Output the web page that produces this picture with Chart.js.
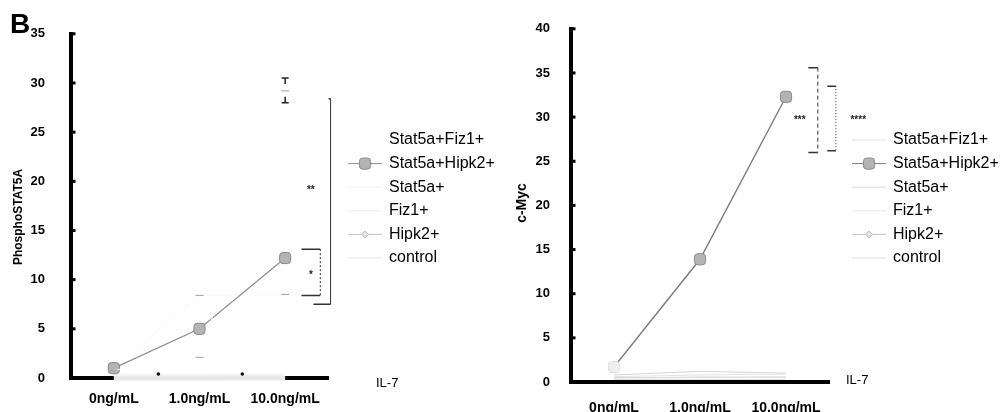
<!DOCTYPE html>
<html>
<head>
<meta charset="utf-8">
<script src="https://cdn.jsdelivr.net/npm/chart.js@4.4.0/dist/chart.umd.min.js"></script>
<style>
  html, body { margin: 0; padding: 0; background: #fff; }
  body { width: 1001px; height: 412px; position: relative; overflow: hidden; font-family: 'Liberation Sans', Arial, sans-serif; }
  .box { position: absolute; top: 0; height: 412px; }
  #boxA { left: 0; width: 500px; }
  #boxB { left: 500px; width: 501px; }
  .lbl { position: absolute; color: #000; }
  #panel { left: 10px; top: 8px; font-size: 28px; font-weight: bold; }
  #il7a { left: 376px; top: 375px; font-size: 13px; }
  #il7b { left: 846px; top: 372px; font-size: 13px; }
</style>
</head>
<body>
<div class="box" id="boxA"><canvas id="chartA"></canvas></div>
<div class="box" id="boxB"><canvas id="chartB"></canvas></div>
<div class="lbl" id="panel">B</div>
<div class="lbl" id="il7a">IL-7</div>
<div class="lbl" id="il7b">IL-7</div>
<script>
// dose categories (x) and series names
const doses = ['0ng/mL', '1.0ng/mL', '10.0ng/mL'];
const seriesNames = ['Stat5a+Fiz1+', 'Stat5a+Hipk2+', 'Stat5a+', 'Fiz1+', 'Hipk2+', 'control'];

// PhosphoSTAT5A values
const pStat5aFiz1  = [0.8, 2.1, 29.2];
const pStat5aHipk2 = [1.0, 5.0, 12.2];
const pStat5a      = [0.4, 0.4, 0.4];
const pFiz1        = [0.2, 0.2, 0.3];
const pHipk2       = [1.0, 8.4, 8.5];
const pControl     = [0.0, 0.0, 0.0];
// error caps of Stat5a+Fiz1+
const pErrHigh = [null, null, 30.5];
const pErrLow  = [null, null, 28.0];
// significance brackets
const pSigX      = [2.41, 2.53];
const pSigTop    = [13.1, 28.4];
const pSigBottom = [8.4, 7.5];
const pSigMark   = ['*', '**'];
const pSigMarkX  = [2.3, 2.3];
const pSigMarkY  = [10.8, 19.4];
const pDotX = [0.52, 1.5];
const pDotY = [0.4, 0.4];

// c-Myc values
const mStat5aFiz1  = [0.6, 0.8, 0.9];
const mStat5aHipk2 = [1.7, 13.9, 32.3];
const mStat5a      = [0.5, 0.5, 0.6];
const mFiz1        = [0.4, 0.6, 0.5];
const mHipk2       = [0.8, 1.2, 1.0];
const mControl     = [0.3, 0.3, 0.3];
const mSigX      = [2.37, 2.58];
const mSigTop    = [35.6, 33.5];
const mSigBottom = [26.0, 26.2];
const mSigMark   = ['***', '****'];
const mSigMarkX  = [2.16, 2.84];
const mSigMarkY  = [30, 30];

const FONT = "'Liberation Sans', Arial, sans-serif";

const extras = {
  id: 'extras',
  afterDatasetsDraw(chart, args, o) {
    const ctx = chart.ctx, xs = chart.scales.x, ys = chart.scales.y, a = chart.chartArea;
    ctx.save();
    // small tick nubs on the y axis
    ctx.fillStyle = '#000';
    ys.ticks.forEach(t => {
      const py = ys.getPixelForValue(t.value);
      ctx.fillRect(a.left + 1, py - 1.5, 3.5, 3);
    });
    // y axis title
    ctx.save();
    ctx.translate(o.titleX, o.titleY);
    ctx.rotate(-Math.PI / 2);
    ctx.font = o.titleFont;
    ctx.textAlign = 'center';
    ctx.textBaseline = 'middle';
    ctx.fillText(o.title, 0, 0);
    ctx.restore();

    // error caps (T shapes)
    (o.errHigh || []).forEach((v, i) => {
      if (v == null) return;
      const px = xs.getPixelForValue(i), hi = ys.getPixelForValue(v), lo = ys.getPixelForValue(o.errLow[i]);
      ctx.strokeStyle = '#222'; ctx.lineWidth = 1.5;
      ctx.beginPath();
      ctx.moveTo(px - 3.5, hi); ctx.lineTo(px + 3.5, hi);
      ctx.moveTo(px, hi); ctx.lineTo(px, hi + 6);
      ctx.moveTo(px - 3.5, lo); ctx.lineTo(px + 3.5, lo);
      ctx.moveTo(px, lo); ctx.lineTo(px, lo - 6);
      ctx.stroke();
    });

    // small dots
    (o.dotX || []).forEach((v, i) => {
      ctx.fillStyle = '#111';
      ctx.beginPath();
      ctx.arc(xs.getPixelForValue(v), ys.getPixelForValue(o.dotY[i]), 1.8, 0, Math.PI * 2);
      ctx.fill();
    });

    // significance brackets
    o.sigX.forEach((v, i) => {
      const px = xs.getPixelForValue(v);
      const top = ys.getPixelForValue(o.sigTop[i]);
      const bot = ys.getPixelForValue(o.sigBottom[i]);
      const capL = xs.getPixelForValue(v - o.capLen[i]);
      ctx.strokeStyle = '#333';
      ctx.lineWidth = 1;
      ctx.setLineDash(o.sigDash[i]);
      ctx.beginPath(); ctx.moveTo(px, top); ctx.lineTo(px, bot); ctx.stroke();
      ctx.setLineDash([]);
      ctx.lineWidth = 1.5;
      ctx.beginPath();
      ctx.moveTo(o.topCap[i] ? capL : px - 2, top); ctx.lineTo(px, top);
      ctx.moveTo(capL, bot); ctx.lineTo(px, bot);
      ctx.stroke();
      ctx.fillStyle = '#222';
      ctx.font = 'bold 10px ' + FONT;
      ctx.textAlign = 'center';
      ctx.textBaseline = 'middle';
      ctx.fillText(o.sigMark[i], xs.getPixelForValue(o.sigMarkX[i]), ys.getPixelForValue(o.sigMarkY[i]) + 3);
    });

    // legend
    chart.data.datasets.forEach((ds, i) => {
      const cy = o.legendTop + i * o.legendGap;
      const tx = o.legendX;
      ctx.strokeStyle = ds.legendLine || ds.borderColor;
      ctx.lineWidth = 1;
      ctx.beginPath(); ctx.moveTo(tx - 41, cy); ctx.lineTo(tx - 7, cy); ctx.stroke();
      if (ds.legendPoint) {
        ctx.fillStyle = ds.legendFill;
        ctx.strokeStyle = ds.legendStroke;
        Chart.helpers.drawPoint(ctx, { pointStyle: ds.legendStyle || ds.pointStyle, radius: ds.legendPoint, borderWidth: 1, rotation: 0 }, tx - 24, cy);
      }
      ctx.fillStyle = '#000';
      ctx.font = '16px ' + FONT;
      ctx.textAlign = 'left';
      ctx.textBaseline = 'middle';
      ctx.fillText(ds.label, tx, cy);
    });
    ctx.restore();
  }
};

function line(label, values, color, width, extra) {
  return Object.assign({
    label: label,
    data: values.map((v, i) => ({ x: i, y: v })),
    borderColor: color, borderWidth: width,
    pointRadius: 0, pointStyle: 'circle', fill: false, tension: 0
  }, extra || {});
}

function makeChart(id, sets, cfg) {
  return new Chart(document.getElementById(id), {
    type: 'line',
    data: { datasets: sets },
    options: {
      responsive: true,
      maintainAspectRatio: false,
      animation: false,
      layout: { padding: { left: 0, top: cfg.top, right: cfg.right, bottom: 0 } },
      plugins: { legend: { display: false }, tooltip: { enabled: false }, extras: cfg.extras },
      scales: {
        x: {
          type: 'linear', min: -0.5, max: 2.5,
          afterBuildTicks: s => { s.ticks = doses.map((d, i) => ({ value: i })); },
          afterFit: s => { s.height = cfg.xHeight; },
          ticks: { callback: v => doses[v], color: '#000', padding: cfg.xPad, maxRotation: 0, autoSkip: false,
                   font: { family: FONT, size: 14, weight: 'bold' } },
          grid: { display: true, drawOnChartArea: false, drawTicks: false },
          border: { color: '#000', width: 4 }
        },
        y: {
          min: 0, max: cfg.yMax,
          afterFit: s => { s.width = 71; },
          ticks: { stepSize: 5, color: '#000', padding: cfg.yPad,
                   font: { family: FONT, size: 13, weight: 'bold' } },
          grid: { display: true, drawOnChartArea: false, drawTicks: false },
          border: { color: '#000', width: 4 }
        }
      }
    },
    plugins: [extras]
  });
}

const mainStyle = { pointRadius: 6.5, pointStyle: 'rectRounded', pointBackgroundColor: '#b4b4b4',
                    pointBorderColor: '#8a8a8a', pointBorderWidth: 1,
                    legendPoint: 6.5, legendFill: '#b4b4b4', legendStroke: '#8a8a8a' };
const faintPt = { pointRadius: 4, pointStyle: 'line', pointBorderColor: '#a0a0a0', pointBorderWidth: 1 };

makeChart('chartA', [
  line(seriesNames[0], pStat5aFiz1, '#fbfbfb', 1, faintPt),
  line(seriesNames[1], pStat5aHipk2, '#8e8e8e', 1.2, mainStyle),
  line(seriesNames[2], pStat5a, '#f2f2f2', 1),
  line(seriesNames[3], pFiz1, '#eeeeee', 1),
  line(seriesNames[4], pHipk2, '#f8f8f8', 1, Object.assign({}, faintPt,
       { legendPoint: 3.5, legendStyle: 'rectRot', legendLine: '#c4c4c4', legendFill: '#e4e4e4', legendStroke: '#bbb' })),
  line(seriesNames[5], pControl, '#e8e8e8', 5, { clip: false })
], {
  top: 25, right: 172, xHeight: 34, xPad: 13, yPad: 26, yMax: 35,
  extras: {
    title: 'PhosphoSTAT5A', titleX: 19, titleY: 217, titleFont: 'bold 12px ' + FONT,
    errHigh: pErrHigh, errLow: pErrLow, dotX: pDotX, dotY: pDotY,
    sigX: pSigX, sigTop: pSigTop, sigBottom: pSigBottom, sigMark: pSigMark,
    sigMarkX: pSigMarkX, sigMarkY: pSigMarkY,
    capLen: [0.22, 0.2], topCap: [true, false], sigDash: [[2, 2], []],
    legendX: 389, legendTop: 140, legendGap: 23.6
  }
});

makeChart('chartB', [
  line(seriesNames[0], mStat5aFiz1, '#e2e2e2', 1),
  line(seriesNames[1], mStat5aHipk2, '#7c7c7c', 1.4, Object.assign({}, mainStyle,
       { pointBackgroundColor: ['#eeeeee', '#b4b4b4', '#b4b4b4'], pointBorderColor: ['#dddddd', '#8a8a8a', '#8a8a8a'] })),
  line(seriesNames[2], mStat5a, '#dcdcdc', 1),
  line(seriesNames[3], mFiz1, '#e6e6e6', 1),
  line(seriesNames[4], mHipk2, '#d4d4d4', 1, { legendPoint: 3.5, legendStyle: 'rectRot', legendLine: '#c4c4c4', legendFill: '#e4e4e4', legendStroke: '#bbb' }),
  line(seriesNames[5], mControl, '#e0e0e0', 1)
], {
  top: 23, right: 172, xHeight: 30, xPad: 18, yPad: 21, yMax: 40,
  extras: {
    title: 'c-Myc', titleX: 22, titleY: 203, titleFont: 'bold 14px ' + FONT,
    sigX: mSigX, sigTop: mSigTop, sigBottom: mSigBottom, sigMark: mSigMark,
    sigMarkX: mSigMarkX, sigMarkY: mSigMarkY,
    capLen: [0.11, 0.1], topCap: [true, true], sigDash: [[4, 3], [1, 2]],
    legendX: 393, legendTop: 140, legendGap: 23.6
  }
});
</script>
</body>
</html>
